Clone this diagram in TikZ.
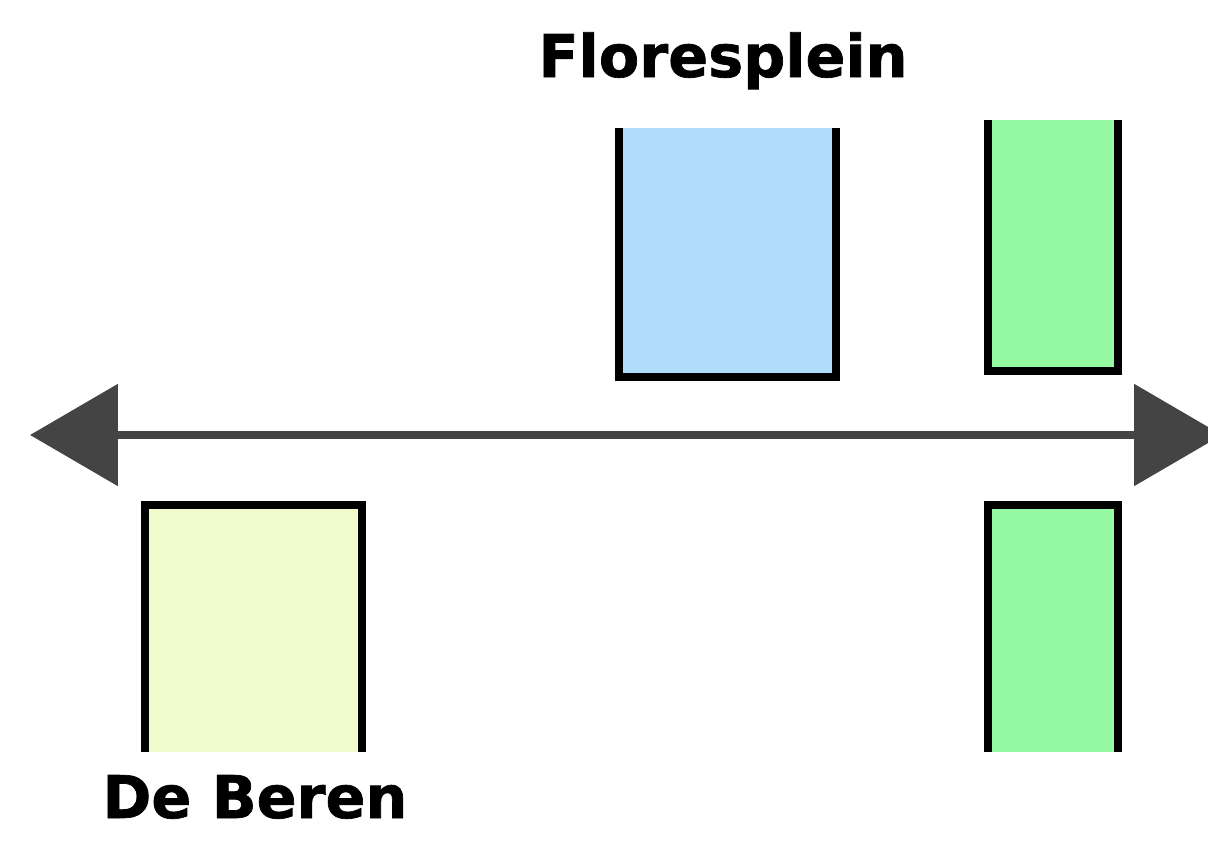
\documentclass[tikz,border=0pt]{standalone}
\usepackage{fontspec}
\setmainfont{DejaVu Sans}[BoldFeatures={FakeBold=1.2}]
\usetikzlibrary{arrows.meta}
\definecolor{boxblue}{RGB}{176,222,250}
\definecolor{boxgreen}{RGB}{150,250,162}
\definecolor{boxyellow}{RGB}{240,252,206}
\definecolor{axisgray}{RGB}{68,68,68}
\begin{document}
\begin{tikzpicture}[x=0.02cm,y=-0.02cm]
			\useasboundingbox (0,0) rectangle (1208,845);
			\coordinate (w) at (30,435);
			\coordinate (e) at (1222,435);
			\coordinate (fa) at (619,128);
			\coordinate (fb) at (836,377);
			\coordinate (ga) at (988,120);
			\coordinate (gb) at (1118,371);
			\coordinate (ba) at (145,752);
			\coordinate (bb) at (362,505);
			\coordinate (ha) at (988,752);
			\coordinate (hb) at (1118,505);
			\draw[line width=4.8pt, axisgray, {Triangle[length=50pt,width=57pt]}-{Triangle[length=50pt,width=57pt]}] (w) to (e);
			\fill[boxblue] (fa) rectangle (fb);
			\fill[boxgreen] (ga) rectangle (gb);
			\fill[boxyellow] (ba) rectangle (bb);
			\fill[boxgreen] (ha) rectangle (hb);
			\draw[line width=4pt] (fa) |- (fb) -- (fb |- fa);
			\draw[line width=4pt] (ga) |- (gb) -- (gb |- ga);
			\draw[line width=4pt] (ba) |- (bb) -- (bb |- ba);
			\draw[line width=4pt] (ha) |- (hb) -- (hb |- ha);
			\node[anchor=base, font=\bfseries\fontsize{33.5}{40}\selectfont] (flores) at (723,77) {Floresplein};
			\node[anchor=base, font=\bfseries\fontsize{33.5}{40}\selectfont] (beren) at (255,818) {De Beren};
		\end{tikzpicture}
\end{document}
